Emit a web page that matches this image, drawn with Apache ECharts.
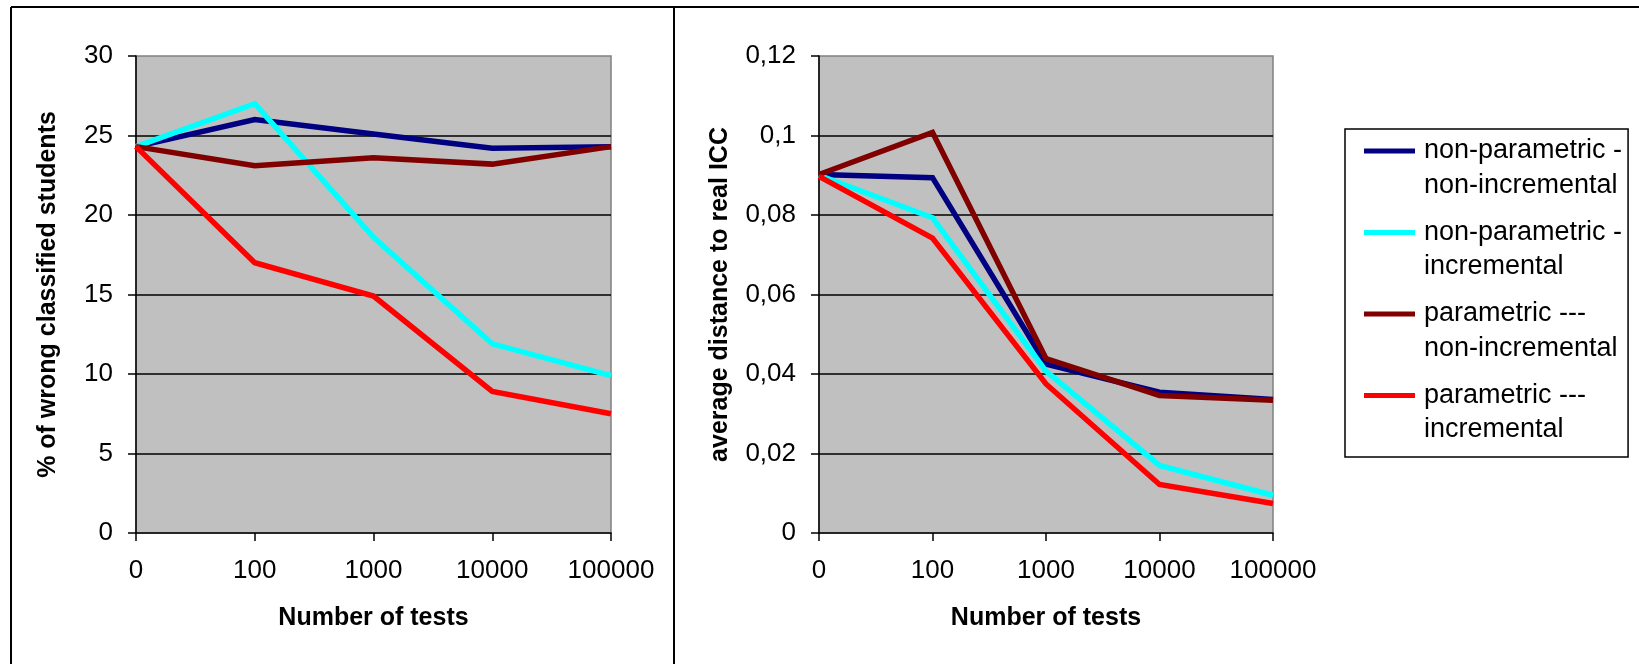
<!DOCTYPE html>
<html>
<head>
<meta charset="utf-8">
<script src="https://cdn.jsdelivr.net/npm/echarts@6/dist/echarts.min.js"></script>
<style>
  html, body { margin: 0; padding: 0; background: #fff; }
  #main { width: 1639px; height: 664px; }
</style>
</head>
<body>
<div id="main"></div>
<script>
// x categories (number of tests)
var categories = ['0', '100', '1000', '10000', '100000'];

// legend / series names
var seriesNames = [
  'non-parametric -\nnon-incremental',
  'non-parametric -\nincremental',
  'parametric ---\nnon-incremental',
  'parametric ---\nincremental'
];
var colors = ['#000080', '#00ffff', '#800000', '#ff0000'];

// left chart: % of wrong classified students
var wrongNonParNonInc = [24.3, 26.0, 25.1, 24.2, 24.3];
var wrongNonParInc    = [24.3, 27.0, 18.6, 11.9, 9.9];
var wrongParNonInc    = [24.3, 23.1, 23.6, 23.2, 24.3];
var wrongParInc       = [24.3, 17.0, 14.9, 8.9, 7.5];

// right chart: average distance to real ICC
var distNonParNonInc = [0.0902, 0.0894, 0.0425, 0.0354, 0.0336];
var distNonParInc    = [0.0900, 0.0793, 0.0407, 0.0170, 0.0095];
var distParNonInc    = [0.0902, 0.1008, 0.0439, 0.0346, 0.0334];
var distParInc       = [0.0897, 0.0742, 0.0375, 0.0122, 0.0074];

// right y-axis tick labels (decimal comma)
var distTickLabels = ['0', '0,02', '0,04', '0,06', '0,08', '0,1', '0,12'];

var font = 'Liberation Sans, Arial, sans-serif';

function xAxisOf(gridIndex) {
  return {
    type: 'category',
    gridIndex: gridIndex,
    data: categories,
    boundaryGap: false,
    name: 'Number of tests',
    nameLocation: 'middle',
    nameGap: 73,
    nameTextStyle: { fontFamily: font, fontSize: 25, fontWeight: 'bold', color: '#000' },
    axisLine: { lineStyle: { color: '#000', width: 1.5 } },
    axisTick: { show: true, interval: 0, length: 8, lineStyle: { color: '#000', width: 1.5 } },
    axisLabel: { interval: 0, margin: 25, fontFamily: font, fontSize: 26, color: '#000' },
    splitLine: { show: false }
  };
}

function yAxisOf(gridIndex, name, max, interval, nameGap, formatter) {
  return {
    type: 'value',
    gridIndex: gridIndex,
    min: 0,
    max: max,
    interval: interval,
    name: name,
    nameLocation: 'middle',
    nameRotate: 90,
    nameGap: nameGap,
    nameTextStyle: { fontFamily: font, fontSize: 25, fontWeight: 'bold', color: '#000' },
    axisLine: { show: true, lineStyle: { color: '#000', width: 1.5 } },
    axisTick: { show: true, length: 8, lineStyle: { color: '#000', width: 1.5 } },
    axisLabel: { margin: 23, fontFamily: font, fontSize: 26, color: '#000', formatter: formatter },
    splitLine: { show: true, showMinLine: false, showMaxLine: false, lineStyle: { color: '#000', width: 1.5 } }
  };
}

function lineSeries(i, xIdx, data) {
  return {
    name: seriesNames[i],
    type: 'line',
    xAxisIndex: xIdx,
    yAxisIndex: xIdx,
    data: data,
    color: colors[i],
    showSymbol: false,
    symbol: 'none',
    lineStyle: { width: 5.5, color: colors[i], join: 'miter' },
    emphasis: { disabled: true }
  };
}

var myChart = echarts.init(document.getElementById('main'));
var option = {
  animation: false,
  backgroundColor: '#fff',
  grid: [
    { left: 136, top: 56, width: 475, height: 477, show: true, backgroundColor: '#c0c0c0', borderColor: '#808080', borderWidth: 1.5 },
    { left: 819, top: 56, width: 454, height: 477, show: true, backgroundColor: '#c0c0c0', borderColor: '#808080', borderWidth: 1.5 }
  ],
  xAxis: [xAxisOf(0), xAxisOf(1)],
  yAxis: [
    yAxisOf(0, '% of wrong classified students', 30, 5, 75, null),
    yAxisOf(1, 'average distance to real ICC', 0.12, 0.02, 86, function (v) {
      return distTickLabels[Math.round(v / 0.02)];
    })
  ],
  legend: {
    orient: 'vertical',
    left: 1345,
    top: 129,
    padding: [4.5, 6, 10, 19],
    itemGap: 12.5,
    itemWidth: 55,
    itemHeight: 69,
    icon: 'path://M0,0L0.01,0L0.01,0.01ZM0,15L51,15L51,20L0,20ZM54.99,69L55,69L55,68.99Z',
    itemStyle: { borderWidth: 0 },
    selectedMode: false,
    borderColor: '#000',
    borderWidth: 1.5,
    backgroundColor: '#fff',
    textStyle: { fontFamily: font, fontSize: 27, lineHeight: 34.5, color: '#000' },
    data: seriesNames
  },
  graphic: [
    { type: 'line', shape: { x1: 11, y1: 7, x2: 11, y2: 664 }, style: { stroke: '#000', lineWidth: 2 } },
    { type: 'line', shape: { x1: 11, y1: 7, x2: 1639, y2: 7 }, style: { stroke: '#000', lineWidth: 2 } },
    { type: 'line', shape: { x1: 674, y1: 7, x2: 674, y2: 664 }, style: { stroke: '#000', lineWidth: 2 } }
  ],
  series: [
    lineSeries(0, 0, wrongNonParNonInc),
    lineSeries(1, 0, wrongNonParInc),
    lineSeries(2, 0, wrongParNonInc),
    lineSeries(3, 0, wrongParInc),
    lineSeries(0, 1, distNonParNonInc),
    lineSeries(1, 1, distNonParInc),
    lineSeries(2, 1, distParNonInc),
    lineSeries(3, 1, distParInc)
  ]
};
myChart.setOption(option);
window.onresize = function () {
  myChart.resize();
};
</script>
</body>
</html>
